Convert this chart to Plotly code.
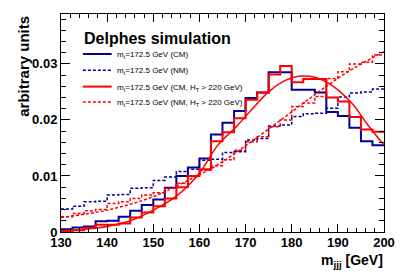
import plotly.graph_objects as go

# ---------------- data ----------------
bin_edges = [130.0, 132.5, 135.0, 137.5, 140.0, 142.5, 145.0, 147.5, 150.0, 152.5,
             155.0, 157.5, 160.0, 162.5, 165.0, 167.5, 170.0, 172.5, 175.0, 177.5,
             180.0, 182.5, 185.0, 187.5, 190.0, 192.5, 195.0, 197.5, 200.0]

cm_all = [0.0005, 0.0008, 0.0010, 0.0019, 0.0020, 0.0027, 0.0038, 0.0048, 0.0058, 0.0079,
          0.0100, 0.0115, 0.0131, 0.0174, 0.0195, 0.0216, 0.0239, 0.0249, 0.0285, 0.0285,
          0.0254, 0.0254, 0.0249, 0.0214, 0.0207, 0.0186, 0.0162, 0.0155]

nm_all = [0.0041, 0.0046, 0.0054, 0.0055, 0.0066, 0.0067, 0.0078, 0.0079, 0.0092, 0.0098,
          0.0108, 0.0112, 0.0128, 0.0130, 0.0142, 0.0143, 0.0164, 0.0167, 0.0189, 0.0191,
          0.0206, 0.0211, 0.0212, 0.0221, 0.0241, 0.0248, 0.0250, 0.0255]

cm_ht = [0.0002, 0.0003, 0.0007, 0.0013, 0.0013, 0.0015, 0.0026, 0.0035, 0.0046, 0.0060,
         0.0080, 0.0100, 0.0112, 0.0162, 0.0178, 0.0203, 0.0236, 0.0249, 0.0281, 0.0296,
         0.0267, 0.0273, 0.0273, 0.0240, 0.0233, 0.0205, 0.0183, 0.0179]

nm_ht = [0.0027, 0.0033, 0.0038, 0.0040, 0.0051, 0.0054, 0.0060, 0.0066, 0.0070, 0.0078,
         0.0087, 0.0099, 0.0110, 0.0118, 0.0129, 0.0146, 0.0161, 0.0170, 0.0188, 0.0200,
         0.0224, 0.0230, 0.0242, 0.0274, 0.0286, 0.0300, 0.0303, 0.0316]

# fitted curves
fit_cm_m = [130, 135, 140, 145, 150, 155, 160, 164, 168, 171.5, 175, 178.5, 181.5, 185, 189, 193, 196.5, 200]
fit_cm_v = [0.0002, 0.0005, 0.0010, 0.0020, 0.0039, 0.0064, 0.0105, 0.0155, 0.0188, 0.0220,
            0.0250, 0.0270, 0.0278, 0.0276, 0.0260, 0.0230, 0.0191, 0.0155]

fit_nm_m = [130, 140, 150, 157, 164, 171, 178, 185, 192, 200]
fit_nm_v = [0.0026, 0.0039, 0.0063, 0.0090, 0.0120, 0.0160, 0.0202, 0.0245, 0.0285, 0.0322]

x_ticks = [130, 140, 150, 160, 170, 180, 190, 200]
y_ticks = [0, 0.01, 0.02, 0.03]
y_tick_text = ["0", "0.01", "0.02", "0.03"]

legend_labels = [
    "m<sub>t</sub>=172.5 GeV (CM)",
    "m<sub>t</sub>=172.5 GeV (NM)",
    "m<sub>t</sub>=172.5 GeV (CM, H<sub>T</sub> > 220 GeV)",
    "m<sub>t</sub>=172.5 GeV (NM, H<sub>T</sub> > 220 GeV)",
]

BLUE = "#00009a"
RED = "#ff0000"
FONT = "Liberation Sans, Arial, Helvetica, sans-serif"
DASH = "3px,2px"


def step(vals):
    return vals + [vals[-1]]


fig = go.Figure()

hist_specs = [
    (cm_all, BLUE, 2, "solid"),
    (nm_all, BLUE, 1.5, DASH),
    (cm_ht, RED, 2, "solid"),
    (nm_ht, RED, 1.5, DASH),
]
for vals, col, w, dash in hist_specs:
    fig.add_trace(go.Scatter(x=bin_edges, y=step(vals), mode="lines",
                             line=dict(shape="hv", color=col, width=w, dash=dash),
                             showlegend=False, hoverinfo="skip"))

fig.add_trace(go.Scatter(x=fit_cm_m, y=fit_cm_v, mode="lines",
                         line=dict(shape="spline", smoothing=1.0, color=RED, width=1.5),
                         showlegend=False, hoverinfo="skip"))
fig.add_trace(go.Scatter(x=fit_nm_m, y=fit_nm_v, mode="lines",
                         line=dict(shape="spline", smoothing=1.0, color=RED, width=1.5, dash=DASH),
                         showlegend=False, hoverinfo="skip"))

# ---------------- layout ----------------
L, R, T, B = 61, 21, 14, 42
W, H = 407, 274
pw, ph = W - L - R, H - T - B


def px_x(p):
    return (p - L) / pw


def px_y(p):
    return (H - B - p) / ph


annotations = []
shapes = []

annotations.append(dict(text="<b>Delphes simulation</b>", x=px_x(82), y=px_y(38),
                        xref="paper", yref="paper", xanchor="left", yanchor="middle",
                        showarrow=False, font=dict(family=FONT, size=16, color="black")))

leg_rows = [54, 70.3, 86.6, 102]
leg_styles = [(BLUE, 2, "solid"), (BLUE, 1.5, DASH), (RED, 2, "solid"), (RED, 1.5, DASH)]
for row, lab, (col, w, dash) in zip(leg_rows, legend_labels, leg_styles):
    shapes.append(dict(type="line", xref="paper", yref="paper",
                       x0=px_x(83), x1=px_x(112), y0=px_y(row), y1=px_y(row),
                       line=dict(color=col, width=w, dash=dash)))
    annotations.append(dict(text=lab, x=px_x(115), y=px_y(row + 1),
                            xref="paper", yref="paper", xanchor="left", yanchor="middle",
                            showarrow=False, font=dict(family=FONT, size=8, color="black")))

annotations.append(dict(text="<b>arbitrary units</b>", textangle=-90,
                        x=px_x(23), y=px_y(14), xref="paper", yref="paper",
                        xanchor="center", yanchor="top", showarrow=False,
                        font=dict(family=FONT, size=15, color="black")))
annotations.append(dict(text="<b>m<sub>jjj</sub> [GeV]</b>",
                        x=px_x(387), y=px_y(261), xref="paper", yref="paper",
                        xanchor="right", yanchor="middle", showarrow=False,
                        font=dict(family=FONT, size=14, color="black")))

axis_common = dict(showline=True, linecolor="black", linewidth=1, mirror="ticks",
                   ticks="inside", tickcolor="black", tickwidth=1,
                   showgrid=False, zeroline=False,
                   tickfont=dict(family=FONT, size=13, color="black", weight="bold"))

fig.update_layout(
    width=W, height=H, autosize=False,
    margin=dict(l=L, r=R, t=T, b=B, pad=0),
    paper_bgcolor="white", plot_bgcolor="white",
    showlegend=False,
    xaxis=dict(range=[130, 200], tickvals=x_ticks, ticklen=8, ticklabelstandoff=-2,
               minor=dict(dtick=2, ticklen=4, ticks="inside", tickcolor="black", showgrid=False),
               **axis_common),
    yaxis=dict(range=[0, 0.0389], tickvals=y_ticks, ticktext=y_tick_text, ticklen=9,
               minor=dict(dtick=0.002, ticklen=5, ticks="inside", tickcolor="black", showgrid=False),
               **axis_common),
    annotations=annotations,
    shapes=shapes,
)

fig.write_html("out.html", config={"displayModeBar": False},
               post_script="document.body.style.margin='0';document.body.style.overflow='hidden';")
